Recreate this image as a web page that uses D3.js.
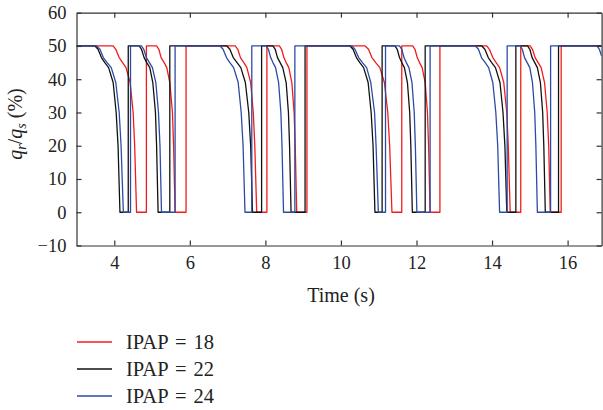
<!DOCTYPE html>
<html>
<head>
<meta charset="utf-8">
<script src="https://cdn.jsdelivr.net/npm/d3@7"></script>
<style>
  html, body { margin: 0; padding: 0; background: #fff; }
  svg { display: block; font-family: "Liberation Serif", "DejaVu Serif", serif; }
</style>
</head>
<body>
<svg id="chart" width="603" height="410"></svg>
<script>
// ── Data (time in s, q_r/q_s in %) ────────────────────────────────────────────
const X_TICKS = [4, 6, 8, 10, 12, 14, 16];
const Y_TICKS = [-10, 0, 10, 20, 30, 40, 50, 60];
const LABELS  = ['IPAP = 18', 'IPAP = 22', 'IPAP = 24'];

const ipap18 = [
    [3, 50],
    [3.97, 50], [4.04, 49], [4.13, 46.5], [4.22, 45], [4.31, 43.5], [4.42, 39], [4.50, 30], [4.54, 20], [4.59, 0], [4.85, 0], [4.85, 50],
    [5.12, 50], [5.18, 49], [5.24, 46.5], [5.32, 45], [5.39, 43.5], [5.47, 39], [5.54, 30], [5.57, 20], [5.61, 0], [5.90, 0], [5.90, 50],
    [7.20, 50], [7.27, 49], [7.34, 46.5], [7.43, 45], [7.51, 43.5], [7.61, 39], [7.68, 30], [7.72, 20], [7.77, 0], [8.04, 0], [8.04, 50],
    [8.37, 50], [8.43, 49], [8.49, 46.5], [8.55, 45], [8.62, 43.5], [8.70, 39], [8.76, 30], [8.79, 20], [8.83, 0], [9.10, 0], [9.10, 50],
    [10.64, 50], [10.73, 49], [10.82, 46.5], [10.92, 45], [11.03, 43.5], [11.15, 39], [11.24, 30], [11.29, 20], [11.35, 0], [11.61, 0], [11.61, 50],
    [11.90, 50], [11.96, 49], [12.02, 46.5], [12.08, 45], [12.15, 43.5], [12.23, 39], [12.29, 30], [12.32, 20], [12.36, 0], [12.62, 0], [12.62, 50],
    [13.86, 50], [13.93, 49], [14.02, 46.5], [14.11, 45], [14.20, 43.5], [14.31, 39], [14.39, 30], [14.43, 20], [14.48, 0], [14.76, 0], [14.76, 50],
    [15.01, 50], [15.07, 49], [15.14, 46.5], [15.22, 45], [15.30, 43.5], [15.39, 39], [15.46, 30], [15.50, 20], [15.54, 0], [15.83, 0], [15.83, 50],
    [16.9, 50],
];

const ipap22 = [
    [3, 50],
    [3.49, 50], [3.57, 49], [3.66, 46.5], [3.75, 45], [3.85, 43.5], [3.97, 39], [4.05, 30], [4.10, 20], [4.15, 0], [4.37, 0], [4.37, 50],
    [4.66, 50], [4.72, 49], [4.79, 46.5], [4.86, 45], [4.94, 43.5], [5.02, 39], [5.09, 30], [5.12, 20], [5.16, 0], [5.47, 0], [5.47, 50],
    [6.98, 50], [7.06, 49], [7.15, 46.5], [7.25, 45], [7.35, 43.5], [7.47, 39], [7.56, 30], [7.61, 20], [7.66, 0], [7.90, 0], [7.90, 50],
    [8.20, 50], [8.26, 49], [8.32, 46.5], [8.39, 45], [8.46, 43.5], [8.55, 39], [8.61, 30], [8.64, 20], [8.68, 0], [9.05, 0], [9.05, 50],
    [10.24, 50], [10.32, 49], [10.41, 46.5], [10.50, 45], [10.60, 43.5], [10.72, 39], [10.80, 30], [10.85, 20], [10.90, 0], [11.09, 0], [11.09, 50],
    [11.43, 50], [11.49, 49], [11.55, 46.5], [11.61, 45], [11.68, 43.5], [11.76, 39], [11.82, 30], [11.85, 20], [11.89, 0], [12.23, 0], [12.23, 50],
    [13.73, 50], [13.81, 49], [13.90, 46.5], [13.99, 45], [14.09, 43.5], [14.21, 39], [14.29, 30], [14.34, 20], [14.39, 0], [14.63, 0], [14.63, 50],
    [14.94, 50], [15.00, 49], [15.06, 46.5], [15.13, 45], [15.20, 43.5], [15.28, 39], [15.34, 30], [15.37, 20], [15.41, 0], [15.76, 0], [15.76, 50],
    [16.9, 50],
];

const ipap24 = [
    [3, 50],
    [3.53, 50], [3.62, 49], [3.71, 46.5], [3.81, 45], [3.92, 43.5], [4.04, 39], [4.13, 30], [4.18, 20], [4.24, 0], [4.43, 0], [4.43, 50],
    [4.72, 50], [4.78, 49], [4.85, 46.5], [4.93, 45], [5.01, 43.5], [5.10, 39], [5.17, 30], [5.21, 20], [5.25, 0], [5.61, 0], [5.61, 50],
    [6.80, 50], [6.88, 49], [6.97, 46.5], [7.06, 45], [7.16, 43.5], [7.28, 39], [7.36, 30], [7.41, 20], [7.46, 0], [7.64, 0], [7.64, 50],
    [8.02, 50], [8.08, 49], [8.14, 46.5], [8.20, 45], [8.27, 43.5], [8.35, 39], [8.41, 30], [8.44, 20], [8.48, 0], [8.78, 0], [8.78, 50],
    [10.29, 50], [10.37, 49], [10.47, 46.5], [10.57, 45], [10.68, 43.5], [10.79, 39], [10.89, 30], [10.93, 20], [10.99, 0], [11.18, 0], [11.18, 50],
    [11.55, 50], [11.61, 49], [11.67, 46.5], [11.73, 45], [11.80, 43.5], [11.88, 39], [11.94, 30], [11.97, 20], [12.01, 0], [12.36, 0], [12.36, 50],
    [13.56, 50], [13.64, 49], [13.72, 46.5], [13.82, 45], [13.91, 43.5], [14.02, 39], [14.10, 30], [14.15, 20], [14.20, 0], [14.40, 0], [14.40, 50],
    [14.75, 50], [14.80, 49], [14.86, 46.5], [14.93, 45], [15.00, 43.5], [15.07, 39], [15.13, 30], [15.16, 20], [15.20, 0], [15.55, 0], [15.55, 50],
    [16.78, 50], [16.84, 49], [16.9, 47],
];

const SERIES = [ipap18, ipap22, ipap24];
const COLORS = ['#f01c1c', '#111111', '#2b4ba4'];


// ── Layout ────────────────────────────────────────────────────────────────────
const svg = d3.select('#chart');
const AXIS = '#333';

const x = d3.scaleLinear().domain([3, 16.9]).range([76.5, 601.6]);
const y = d3.scaleLinear().domain([-10, 60]).range([245.5, 12.7]);

svg.append('defs').append('clipPath').attr('id', 'plot-clip')
    .append('rect')
    .attr('x', x.range()[0]).attr('y', y.range()[1])
    .attr('width', x.range()[1] - x.range()[0])
    .attr('height', y.range()[0] - y.range()[1]);


// ── Series ────────────────────────────────────────────────────────────────────
const line = d3.line().x(d => x(d[0])).y(d => y(d[1]));

svg.append('g').attr('clip-path', 'url(#plot-clip)')
    .selectAll('path')
    .data(SERIES)
    .join('path')
    .attr('d', line)
    .attr('fill', 'none')
    .attr('stroke', (_, i) => COLORS[i])
    .attr('stroke-width', 1.3)
    .attr('stroke-linejoin', 'round');


// ── Axes (boxed, ticks inward) ────────────────────────────────────────────────
const fmt = d => d < 0 ? '\u2212' + Math.abs(d) : String(d);

function styleAxis(g) {
    g.select('.domain').attr('stroke', AXIS).attr('stroke-width', 1.2);
    g.selectAll('.tick line').attr('stroke', AXIS).attr('stroke-width', 1.2);
    g.selectAll('.tick text')
        .attr('fill', '#222')
        .attr('font-size', 18.5)
        .attr('font-family', '"Liberation Serif", serif');
}

svg.append('g')
    .attr('transform', `translate(0,${y.range()[0]})`)
    .call(d3.axisBottom(x).tickValues(X_TICKS).tickSize(-5).tickSizeOuter(0)
        .tickPadding(10).tickFormat(fmt))
    .call(styleAxis);

svg.append('g')
    .attr('transform', `translate(0,${y.range()[1]})`)
    .call(d3.axisTop(x).tickValues(X_TICKS).tickSize(-5).tickSizeOuter(0).tickFormat(''))
    .call(styleAxis);

svg.append('g')
    .attr('transform', `translate(${x.range()[0]},0)`)
    .call(d3.axisLeft(y).tickValues(Y_TICKS).tickSize(-5).tickSizeOuter(0)
        .tickPadding(10).tickFormat(fmt))
    .call(styleAxis);

svg.append('g')
    .attr('transform', `translate(${x.range()[1]},0)`)
    .call(d3.axisRight(y).tickValues(Y_TICKS).tickSize(-5).tickSizeOuter(0).tickFormat(''))
    .call(styleAxis);


// ── Axis titles ───────────────────────────────────────────────────────────────
svg.append('text')
    .attr('x', 341).attr('y', 302)
    .attr('text-anchor', 'middle')
    .attr('font-size', 20)
    .attr('fill', '#222')
    .text('Time (s)');

const yt = svg.append('text')
    .attr('transform', 'translate(22,124) rotate(-90)')
    .attr('text-anchor', 'middle')
    .attr('font-size', 20)
    .attr('fill', '#222');
yt.append('tspan').attr('font-style', 'italic').text('q');
yt.append('tspan').attr('font-style', 'italic').attr('font-size', 14).attr('dy', 4).text('r');
yt.append('tspan').attr('dy', -4).text('/');
yt.append('tspan').attr('font-style', 'italic').text('q');
yt.append('tspan').attr('font-style', 'italic').attr('font-size', 14).attr('dy', 4).text('s');
yt.append('tspan').attr('dy', -4).text(' (%)');


// ── Legend ────────────────────────────────────────────────────────────────────
const legend = svg.append('g').selectAll('g')
    .data(LABELS)
    .join('g')
    .attr('transform', (_, i) => `translate(77,${342 + i * 27})`);

legend.append('line')
    .attr('x1', 0).attr('x2', 35)
    .attr('stroke', (_, i) => COLORS[i])
    .attr('stroke-width', 1.3);

legend.append('text')
    .attr('x', 49).attr('y', 6.5)
    .attr('font-size', 20.5)
    .attr('word-spacing', 2)
    .attr('fill', '#222')
    .text(d => d);
</script>
</body>
</html>
